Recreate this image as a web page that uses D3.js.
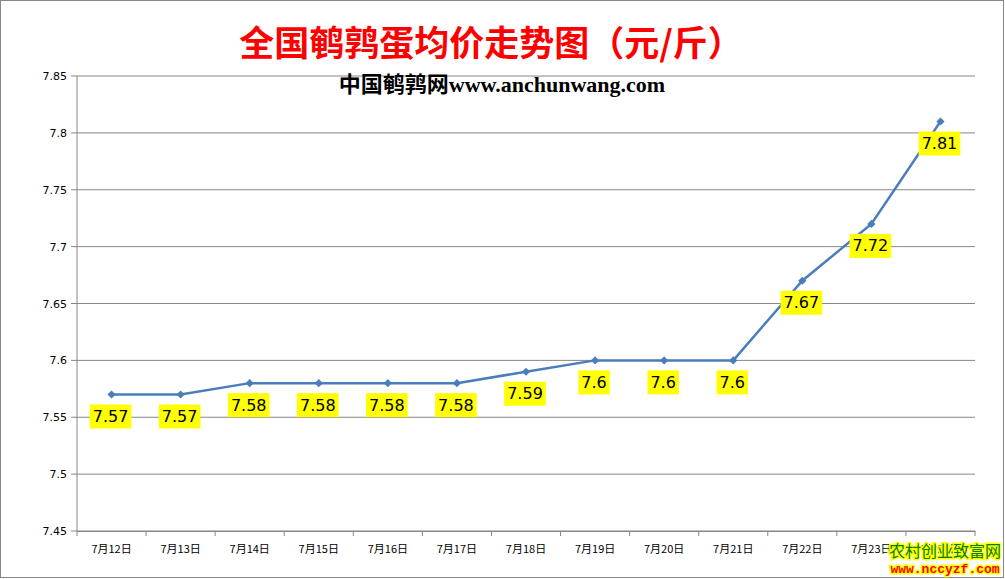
<!DOCTYPE html>
<html><head><meta charset="utf-8">
<script src="https://cdn.jsdelivr.net/npm/d3@7"></script>
<style>body{margin:0;background:#fff}</style>
</head><body><div id="chart"></div>
<script>
var dates = ["7月12日","7月13日","7月14日","7月15日","7月16日","7月17日","7月18日","7月19日","7月20日","7月21日","7月22日","7月23日","7月24日"];
var prices = [7.57,7.57,7.58,7.58,7.58,7.58,7.59,7.6,7.6,7.6,7.67,7.72,7.81];
var yTicks = [7.45,7.5,7.55,7.6,7.65,7.7,7.75,7.8,7.85];

var svg = d3.select("#chart").append("svg").attr("width",1005).attr("height",579);
svg.append("rect").attr("x",0.5).attr("y",0.5).attr("width",1003).attr("height",577)
  .attr("fill","#fff").attr("stroke","#888");

var x = d3.scaleBand().domain(dates).range([77,975]);
var y = d3.scaleLinear().domain([7.45,7.85]).range([531,76]);

// gridlines
svg.selectAll(".grid").data(yTicks).enter().append("line")
  .attr("x1",71).attr("x2",975).attr("y1",d=>y(d)).attr("y2",d=>y(d))
  .attr("stroke","#868686");
svg.append("line").attr("x1",77).attr("x2",77).attr("y1",76).attr("y2",531).attr("stroke","#868686");

var yAxis = svg.append("g").attr("transform","translate(77,0)")
  .call(d3.axisLeft(y).tickValues(yTicks).tickSize(0).tickPadding(10).tickFormat(d=>String(+d.toFixed(2))));
yAxis.select(".domain").remove();
yAxis.selectAll("text").attr("font-family","Verdana, DejaVu Sans").attr("font-size",11).attr("fill","#000");

var xAxis = svg.append("g").attr("transform","translate(0,531)")
  .call(d3.axisBottom(x).tickSize(0).tickPadding(14));
xAxis.select(".domain").attr("stroke","#868686");
xAxis.selectAll("text").attr("font-family","Noto Sans CJK SC").attr("font-size",11).attr("fill","#000");
svg.selectAll(".xt").data(dates.concat([null])).enter().append("line")
  .attr("x1",(d,i)=>77+i*x.step()).attr("x2",(d,i)=>77+i*x.step())
  .attr("y1",531).attr("y2",536).attr("stroke","#868686");

var cx = d => x(d) + x.bandwidth()/2;
svg.append("path").datum(prices)
  .attr("d", d3.line().x((d,i)=>cx(dates[i])).y(d=>y(d)))
  .attr("fill","none").attr("stroke","#4a7ebb").attr("stroke-width",2.5);
svg.selectAll(".pt").data(prices).enter().append("path")
  .attr("d", d3.symbol(d3.symbolSquare, 34))
  .attr("transform",(d,i)=>`translate(${cx(dates[i])},${y(d)}) rotate(45)`)
  .attr("fill","#4a7ebb");

var lab = svg.selectAll(".lab").data(prices).enter().append("g")
  .attr("transform",(d,i)=>`translate(${cx(dates[i])-1},${y(d)+22})`);
lab.append("text").text(d=>d).attr("text-anchor","middle").attr("dy","0.35em")
  .attr("font-family","Verdana, DejaVu Sans").attr("font-size",16).attr("fill","#000")
  .each(function(){
    var b = this.getBBox();
    d3.select(this.parentNode).insert("rect","text")
      .attr("x",b.x-3).attr("y",-12).attr("width",b.width+6).attr("height",24).attr("fill","#ffff00");
  });

svg.append("text").attr("x",491).attr("y",56).attr("text-anchor","middle")
  .attr("font-family","Noto Sans CJK SC").attr("font-weight","bold").attr("font-size",35).attr("fill","#ff0000")
  .text("全国鹌鹑蛋均价走势图（元/斤）");
svg.append("text").attr("x",502).attr("y",92).attr("text-anchor","middle")
  .attr("font-family","Liberation Serif, Noto Sans CJK SC").attr("font-weight","bold").attr("font-size",22).attr("fill","#000")
  .text("中国鹌鹑网www.anchunwang.com");

svg.append("text").attr("x",945).attr("y",557).attr("text-anchor","middle")
  .attr("font-family","Noto Sans CJK SC").attr("font-size",16).attr("fill","#008000")
  .attr("stroke","#ffff00").attr("stroke-width",3).attr("paint-order","stroke")
  .text("农村创业致富网");
svg.append("text").attr("x",945).attr("y",573).attr("text-anchor","middle")
  .attr("font-family","Liberation Mono").attr("font-weight","bold").attr("font-size",13).attr("fill","#ff0000")
  .attr("stroke","#ffff00").attr("stroke-width",3).attr("paint-order","stroke")
  .text("www.nccyzf.com");
</script></body></html>
